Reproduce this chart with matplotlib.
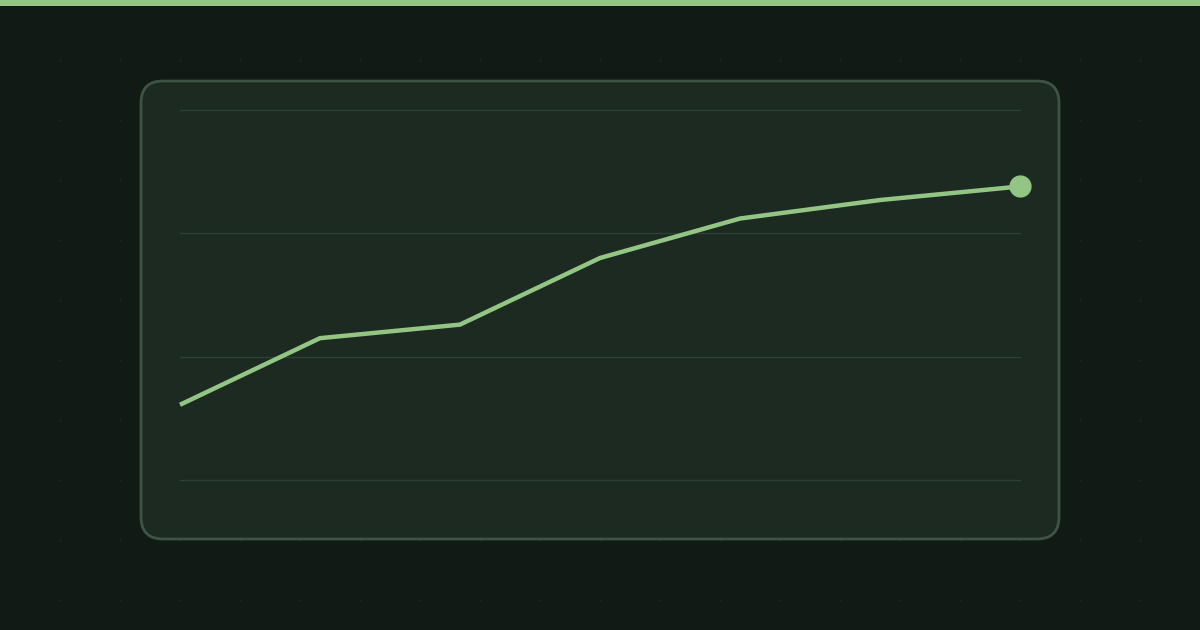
import matplotlib
matplotlib.use("Agg")
import matplotlib.pyplot as plt
from matplotlib.patches import FancyBboxPatch, Rectangle
import numpy as np

# series values (grid at 0/100/200/300)
steps = [0, 1, 2, 3, 4, 5, 6]
values = [61, 115, 126, 180, 212, 227, 238]
grid_levels = [0, 100, 200, 300]

BG = "#111a15"
CARD = "#1c2a22"
EDGE = "#3d5443"
GRID = "#2f4035"
GREEN = "#93c684"

fig = plt.figure(figsize=(12, 6.3), dpi=100, facecolor=BG)

# backdrop in pixel units: dot grid, accent bar, card
bg = fig.add_axes([0, 0, 1, 1])
bg.set_xlim(0, 1200)
bg.set_ylim(630, 0)
bg.axis("off")
bg.set_facecolor(BG)

dx, dy = np.meshgrid(np.arange(60, 1200, 60), np.arange(60, 630, 60))
bg.scatter(dx.ravel(), dy.ravel(), s=3, color="#1e2a23", linewidths=0, zorder=1)
bg.add_patch(Rectangle((0, 0), 1200, 6, color=GREEN, zorder=3, linewidth=0))
bg.add_patch(FancyBboxPatch((141, 81), 918, 458,
                            boxstyle="round,pad=0,rounding_size=22",
                            facecolor=CARD, edgecolor=EDGE, linewidth=2.0, zorder=2))

# the chart itself
ax = fig.add_axes([180 / 1200, 150 / 630, 840 / 1200, 370 / 630])
ax.set_facecolor("none")
ax.set_xlim(0, 6)
ax.set_ylim(0, 300)
for lvl in grid_levels:
    ax.axhline(lvl, color=GRID, linewidth=1.0, zorder=1, clip_on=False)
ax.plot(steps, values, color=GREEN, linewidth=3.2, solid_joinstyle="miter",
        solid_capstyle="butt", zorder=3, clip_on=False)
ax.plot(steps[-1], values[-1], "o", color=GREEN, markersize=15, zorder=4, clip_on=False)
ax.axis("off")

fig.savefig("out.png", dpi=100, facecolor=BG)
